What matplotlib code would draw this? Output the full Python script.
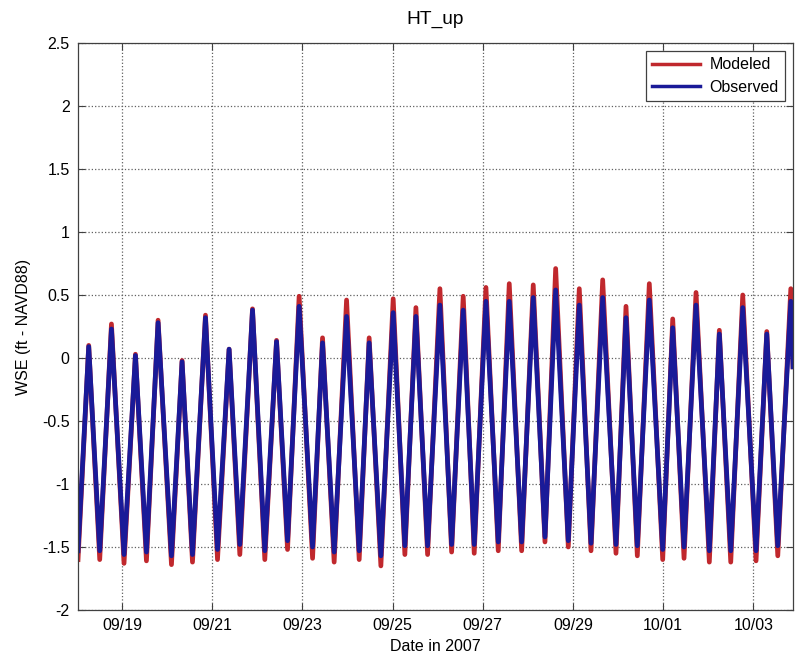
import numpy as np
import pandas as pd
import matplotlib
matplotlib.use('Agg')
import matplotlib.pyplot as plt
import matplotlib.dates as mdates

plt.rcParams['font.family'] = ['Liberation Sans', 'DejaVu Sans']
plt.rcParams['font.size'] = 11.5

t0 = pd.Timestamp('2007-09-18 00:00')

# high water: time (days after 09/18 00:00), modeled and observed level (ft)
hw_day = [0.261, 0.765, 1.297, 1.799, 2.331, 2.850, 3.374, 3.893, 4.426, 4.927,
          5.446, 5.979, 6.480, 7.013, 7.517, 8.049, 8.566, 9.070, 9.587, 10.119,
          10.616, 11.140, 11.659, 12.176, 12.693, 13.212, 13.729, 14.246, 14.765,
          15.298, 15.831]
mod_hw = [0.10, 0.27, 0.03, 0.30, -0.02, 0.34, 0.07, 0.39, 0.14, 0.49,
          0.16, 0.46, 0.16, 0.47, 0.40, 0.55, 0.49, 0.56, 0.59, 0.58,
          0.71, 0.55, 0.62, 0.41, 0.59, 0.31, 0.52, 0.22, 0.50, 0.21, 0.55]
obs_hw = [0.09, 0.23, 0.02, 0.28, -0.03, 0.32, 0.07, 0.38, 0.13, 0.41,
          0.12, 0.33, 0.12, 0.36, 0.33, 0.42, 0.38, 0.45, 0.45, 0.48,
          0.54, 0.42, 0.48, 0.32, 0.46, 0.24, 0.42, 0.19, 0.40, 0.19, 0.45]

# low water
lw_day = [0.024, 0.505, 1.044, 1.541, 2.096, 2.562, 3.117, 3.612, 4.166, 4.670,
          5.225, 5.704, 6.259, 6.740, 7.272, 7.776, 8.309, 8.810, 9.343, 9.862,
          10.379, 10.896, 11.400, 11.954, 12.427, 12.990, 13.463, 14.024, 14.499,
          15.060, 15.542]
mod_lw = [-1.60, -1.60, -1.63, -1.61, -1.64, -1.62, -1.60, -1.56, -1.60, -1.52,
          -1.59, -1.62, -1.60, -1.65, -1.56, -1.56, -1.54, -1.55, -1.53, -1.53,
          -1.46, -1.50, -1.53, -1.55, -1.57, -1.60, -1.59, -1.62, -1.62, -1.61, -1.57]
obs_lw = [-1.53, -1.53, -1.56, -1.54, -1.57, -1.56, -1.52, -1.48, -1.53, -1.45,
          -1.50, -1.54, -1.53, -1.57, -1.49, -1.49, -1.48, -1.48, -1.46, -1.46,
          -1.42, -1.45, -1.47, -1.48, -1.49, -1.52, -1.50, -1.53, -1.53, -1.53, -1.49]

# last record
end_day = 15.88
mod_end = -0.07
obs_end = -0.07


def series(hw, lw, end):
    d = pd.DataFrame({'day': hw_day + lw_day + [end_day], 'wse': hw + lw + [end]})
    d = d.sort_values('day')
    t = t0 + pd.to_timedelta(d['day'], unit='D')
    return t, d['wse'].values


t_mod, wse_mod = series(mod_hw, mod_lw, mod_end)
t_obs, wse_obs = series(obs_hw, obs_lw, obs_end)

fig = plt.figure(figsize=(8.02, 6.55), dpi=100)
ax = fig.add_axes([0.0973, 0.0687, 0.8915, 0.8657])

ax.plot(t_mod, wse_mod, color='#c0282d', lw=3.4, solid_joinstyle='round', label='Modeled')
ax.plot(t_obs, wse_obs, color='#1a1a98', lw=3.4, solid_joinstyle='round', label='Observed')

ax.set_xlim(t0 + pd.Timedelta(days=lw_day[0]), t0 + pd.Timedelta(days=end_day))
ax.set_ylim(-2, 2.5)
ax.set_yticks(np.arange(-2, 2.51, 0.5))
ax.set_yticklabels(['-2', '-1.5', '-1', '-0.5', '0', '0.5', '1', '1.5', '2', '2.5'])
ax.xaxis.set_major_locator(mdates.DayLocator(bymonthday=[19, 21, 23, 25, 27, 29, 1, 3]))
ax.xaxis.set_major_formatter(mdates.DateFormatter('%m/%d'))

ax.grid(True, linestyle=':', color='#606060', lw=0.9)
ax.tick_params(direction='in', length=5, top=True, right=True, pad=6, colors='#404040',
               labelcolor='black')
for s in ax.spines.values():
    s.set_color('#404040')
    s.set_linewidth(0.9)

ax.set_title('HT_up', pad=14)
ax.set_xlabel('Date in 2007', labelpad=4)
ax.set_ylabel('WSE (ft - NAVD88)', labelpad=8)

leg = ax.legend(loc='upper right', fancybox=False, framealpha=1, edgecolor='#404040',
                handlelength=3.0, handletextpad=0.6, borderaxespad=0.5, labelspacing=0.45)
leg.get_frame().set_linewidth(0.9)
for h in leg.get_lines():
    h.set_linewidth(2.5)

fig.savefig('out.png', dpi=100)
